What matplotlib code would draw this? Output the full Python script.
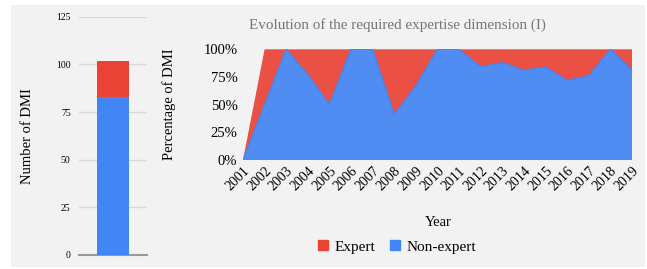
import numpy as np
import matplotlib
matplotlib.use("Agg")
import matplotlib.pyplot as plt
from matplotlib.patches import Rectangle
from matplotlib.ticker import PercentFormatter

plt.rcParams['font.family'] = ['Liberation Serif', 'DejaVu Serif']

# totals (left bar)
total_expert = 19
total_non_expert = 83

# yearly share of DMI (right area chart)
years = [str(y) for y in range(2001, 2020)]
non_expert_pct = [0, 50, 100, 77, 50, 100, 100, 41, 67, 100, 100, 84, 88, 81, 84, 72, 76, 100, 81]
expert_pct = [0] + [100 - v for v in non_expert_pct[1:]]

red = '#ea4335'
blue = '#4285f4'
bg = '#f2f2f2'

fig = plt.figure(figsize=(6.47, 2.69), dpi=100)
fig.patches.append(Rectangle((11 / 647, 1 - 267 / 269), (645 - 11) / 647, (267 - 5) / 269,
                             transform=fig.transFigure, facecolor=bg, edgecolor='none', zorder=-10))

# left: stacked total bar
ax1 = fig.add_axes([79 / 647, 14 / 269, 68 / 647, 238.3 / 269])
ax1.set_facecolor('none')
ax1.bar([0], [total_non_expert], width=0.485, color=blue, zorder=3)
ax1.bar([0], [total_expert], bottom=[total_non_expert], width=0.485, color=red, zorder=3)
ax1.set_xlim(-0.5, 0.5)
ax1.set_ylim(0, 125)
ax1.set_yticks([0, 25, 50, 75, 100, 125])
ax1.grid(axis='y', color='#d9d9d9', linewidth=1, zorder=0)
for s in ['top', 'right', 'left']:
    ax1.spines[s].set_visible(False)
ax1.spines['bottom'].set_color('#999999')
ax1.spines['bottom'].set_linewidth(1.5)
ax1.set_xticks([])
ax1.tick_params(axis='y', length=0, labelsize=7, pad=6)
ax1.set_ylabel('Number of DMI', fontsize=10.5, labelpad=16)

# right: percentage area chart
ax2 = fig.add_axes([243 / 647, 109 / 269, 389 / 647, 110.7 / 269])
ax2.set_facecolor('none')
x = np.arange(len(years))
ax2.stackplot(x, np.array(non_expert_pct) / 100, np.array(expert_pct) / 100,
              colors=[blue, red], alpha=0.92, zorder=3)
ax2.plot(x, np.array(non_expert_pct) / 100, color=blue, linewidth=1, zorder=4)
ax2.set_xlim(0, len(years) - 1)
ax2.set_ylim(0, 1)
ax2.set_yticks([0, 0.25, 0.5, 0.75, 1])
ax2.yaxis.set_major_formatter(PercentFormatter(1.0, decimals=0))
ax2.set_xticks(x)
ax2.set_xticklabels(years, rotation=45, ha='right', rotation_mode='anchor')
ax2.tick_params(axis='x', length=0, labelsize=10, pad=3)
ax2.tick_params(axis='y', length=0, labelsize=10.5, pad=4)
for s in ax2.spines.values():
    s.set_visible(False)
ax2.set_ylabel('Percentage of DMI', fontsize=10.5, labelpad=20)

fig.text(397 / 647, 1 - 25 / 269, 'Evolution of the required expertise dimension (I)',
         ha='center', va='center', fontsize=10.9, color='#757575')
fig.text(438 / 647, 1 - 223 / 269, 'Year', ha='center', va='center', fontsize=10.5)
handles = [Rectangle((0, 0), 1, 1, color=red), Rectangle((0, 0), 1, 1, color=blue)]
fig.legend(handles, ['Expert', 'Non-expert'], loc='center', bbox_to_anchor=(397 / 647, 1 - 247 / 269),
           ncol=2, frameon=False, fontsize=11, handlelength=0.65, handleheight=0.65,
           handletextpad=0.45, columnspacing=0.92)

fig.savefig('out.png', dpi=100)
